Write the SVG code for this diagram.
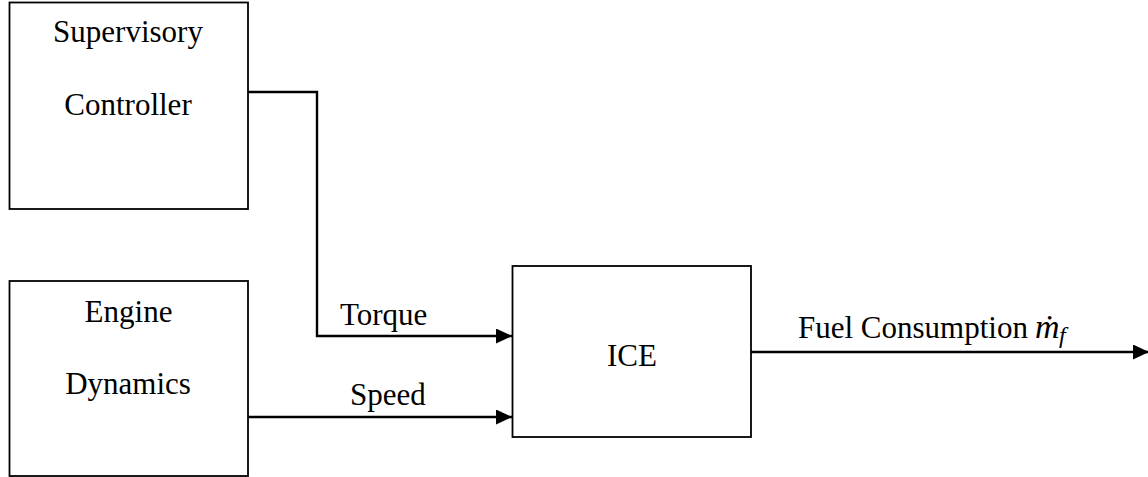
<svg xmlns="http://www.w3.org/2000/svg" width="1148" height="477" viewBox="0 0 1148 477">
<style>
.box{fill:#fff;stroke:#000;stroke-width:1.8}
.conn{fill:none;stroke:#000;stroke-width:2.4}
.t{font-family:"Liberation Serif","Times New Roman",serif;font-size:31px;fill:#000}
.c{text-anchor:middle}
</style>
<defs>
<marker id="arr" markerUnits="userSpaceOnUse" markerWidth="16" markerHeight="15" refX="16" refY="7.5" orient="auto" viewBox="0 0 16 15">
<path d="M0,0 L16,7.5 L0,15 Z" fill="#000"/>
</marker>
</defs>
<rect width="1148" height="477" fill="#fff"/>
<g id="supervisory">
<rect class="box" x="9.5" y="2.5" width="238.5" height="206.5"/>
<text class="t c" x="128" y="42">Supervisory</text>
<text class="t c" x="128" y="115">Controller</text>
</g>
<g id="engine">
<rect class="box" x="9.5" y="281" width="238.5" height="195"/>
<text class="t c" x="128.5" y="322">Engine</text>
<text class="t c" x="128" y="394">Dynamics</text>
</g>
<g id="ice">
<rect class="box" x="512.5" y="266" width="238.5" height="171"/>
<text class="t c" x="632" y="366">ICE</text>
</g>
<g id="connectors">
<polyline class="conn" points="248,92 317,92 317,336 512,336" marker-end="url(#arr)"/>
<line class="conn" x1="248" y1="417" x2="512" y2="417" marker-end="url(#arr)"/>
<line class="conn" x1="751" y1="352" x2="1149" y2="352" marker-end="url(#arr)"/>
<text class="t" x="340" y="325">Torque</text>
<text class="t" x="350" y="405">Speed</text>
<text class="t" x="798" y="338">Fuel Consumption <tspan x="1035" font-style="italic" font-size="34">ṁ</tspan><tspan x="1059" font-style="italic" font-size="24" dy="5">f</tspan></text>
</g>
</svg>
